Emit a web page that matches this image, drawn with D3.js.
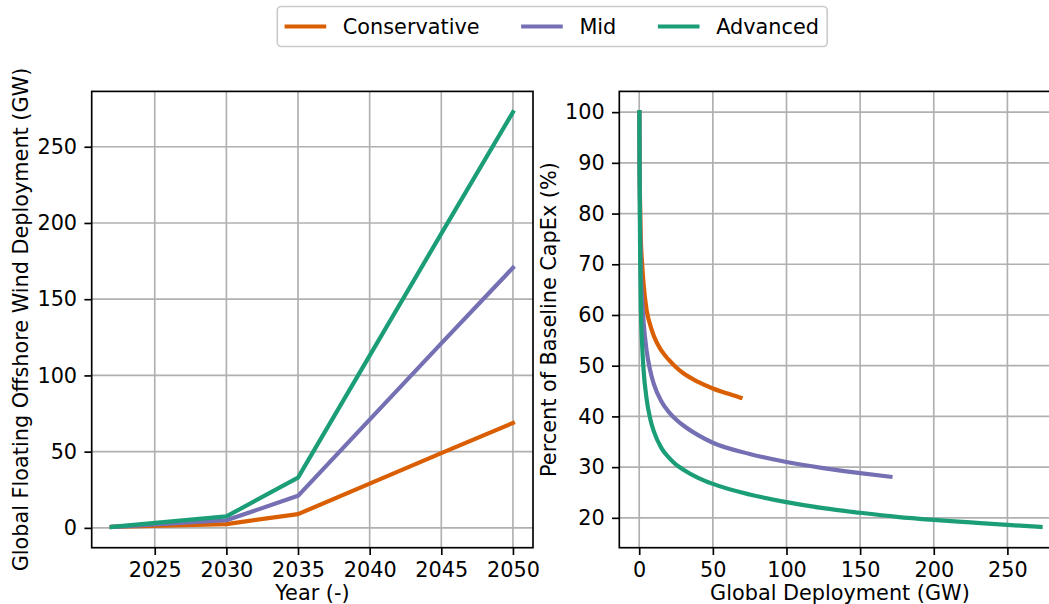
<!DOCTYPE html>
<html>
<head>
<meta charset="utf-8">
<script src="https://cdnjs.cloudflare.com/ajax/libs/d3/7.8.5/d3.min.js"></script>
<style>
  body { margin: 0; background: #fff; }
  svg text { font-family: "DejaVu Sans", sans-serif; fill: #000; }
  .tick line { stroke: #000; }
  .grid line { stroke: #b0b0b0; stroke-width: 1.67px; }
</style>
</head>
<body>
<div id="chart"></div>
<script>
// scenarios
var scenarios = ["Conservative", "Mid", "Advanced"];
var colors = ["#d95f02", "#7570b3", "#1b9e77"];

// left panel: cumulative deployment by year (GW)
var years = [2022, 2030, 2035, 2040, 2045, 2050];
var deployConservative = [0.6, 2.5, 9, 29, 49, 68.8];
var deployMid = [0.6, 5, 21, 71, 121, 170.6];
var deployAdvanced = [0.6, 7.5, 33, 113, 193, 272.7];

// right panel: capex (% of baseline) vs global deployment (GW)
var gwConservative = [0.1, 0.3, 0.6, 1, 2, 3, 5, 7.5, 10, 15, 20, 25, 30, 40, 50, 60, 68.8];
var capexConservative = [100, 89, 82, 76, 70, 66, 61, 58, 55.8, 53, 51.2, 49.7, 48.5, 46.8, 45.5, 44.5, 43.7];
var gwMid = [0.1, 0.3, 0.6, 1, 2, 3, 5, 7.5, 10, 15, 20, 25, 30, 40, 50, 75, 100, 125, 150, 170.6];
var capexMid = [100, 88, 78, 70, 63, 58.5, 53, 49, 46.3, 43, 40.9, 39.4, 38.2, 36.3, 34.8, 32.6, 31, 29.8, 28.8, 28.1];
var gwAdvanced = [0.1, 0.3, 0.6, 1, 2, 3, 5, 7.5, 10, 15, 20, 25, 30, 40, 50, 75, 100, 125, 150, 175, 200, 225, 250, 272.5];
var capexAdvanced = [100, 85, 73, 63, 54, 49, 43.5, 39.5, 37, 33.8, 31.9, 30.5, 29.5, 27.9, 26.7, 24.6, 23.1, 21.9, 21, 20.2, 19.6, 19.1, 18.6, 18.2];

// tick values
var yearTicks = [2025, 2030, 2035, 2040, 2045, 2050];
var deployTicks = [0, 50, 100, 150, 200, 250];
var gwTicks = [0, 50, 100, 150, 200, 250];
var capexTicks = [20, 30, 40, 50, 60, 70, 80, 90, 100];

var FS = 20.8, TICK = 7.3, LW = 4.2;
var W = 1049, H = 604;

var svg = d3.select("#chart").append("svg")
  .attr("width", W)
  .attr("height", H);

// matplotlib-like 5% margins
function padded(ext){
  var m = (ext[1] - ext[0]) * 0.05;
  return [ext[0] - m, ext[1] + m];
}

function panel(box, xDom, yDom, xTicks, yTicks, xLabel, yLabel, yLabelX, series, clipId, curve){
  var x = d3.scaleLinear().domain(xDom).range([box.x0, box.x1]);
  var y = d3.scaleLinear().domain(yDom).range([box.y1, box.y0]);

  svg.append("clipPath").attr("id", clipId)
    .append("rect")
    .attr("x", box.x0).attr("y", box.y0)
    .attr("width", box.x1 - box.x0).attr("height", box.y1 - box.y0);

  // grid
  var grid = svg.append("g").attr("class", "grid");
  grid.selectAll("line.gx").data(xTicks).enter().append("line")
    .attr("x1", function(d){return x(d);}).attr("x2", function(d){return x(d);})
    .attr("y1", box.y0).attr("y2", box.y1);
  grid.selectAll("line.gy").data(yTicks).enter().append("line")
    .attr("y1", function(d){return y(d);}).attr("y2", function(d){return y(d);})
    .attr("x1", box.x0).attr("x2", box.x1);

  // series
  var line = d3.line().curve(curve).x(function(d){return x(d[0]);}).y(function(d){return y(d[1]);});
  svg.append("g").attr("clip-path", "url(#" + clipId + ")")
    .selectAll("path").data(series).enter().append("path")
    .attr("d", function(d){return line(d.pts);})
    .attr("fill", "none")
    .attr("stroke", function(d){return d.color;})
    .attr("stroke-width", LW)
    .attr("stroke-linejoin", "round")
    .attr("stroke-linecap", "square");

  // axes
  var gx = svg.append("g")
    .attr("transform", "translate(0," + box.y1 + ")")
    .call(d3.axisBottom(x).tickValues(xTicks).tickSize(TICK).tickPadding(TICK).tickFormat(d3.format("d")));
  var gy = svg.append("g")
    .attr("transform", "translate(" + box.x0 + ",0)")
    .call(d3.axisLeft(y).tickValues(yTicks).tickSize(TICK).tickPadding(TICK).tickFormat(d3.format("d")));
  [gx, gy].forEach(function(g){
    g.select(".domain").remove();
    g.selectAll(".tick line").attr("stroke-width", 1.67);
    g.selectAll("text").attr("font-size", FS).style("font-family", "DejaVu Sans");
  });

  // spines
  svg.append("rect")
    .attr("x", box.x0).attr("y", box.y0)
    .attr("width", box.x1 - box.x0).attr("height", box.y1 - box.y0)
    .attr("fill", "none").attr("stroke", "#000").attr("stroke-width", 1.67);

  svg.append("text")
    .attr("x", (box.x0 + box.x1) / 2).attr("y", 600)
    .attr("text-anchor", "middle").attr("font-size", FS)
    .text(xLabel);
  svg.append("text")
    .attr("transform", "translate(" + yLabelX + "," + ((box.y0 + box.y1) / 2) + ") rotate(-90)")
    .attr("text-anchor", "middle").attr("font-size", FS)
    .text(yLabel);
}

function zip(xs, ys){ return xs.map(function(v, i){ return [v, ys[i]]; }); }

// left panel
var leftSeries = [deployConservative, deployMid, deployAdvanced].map(function(vals, i){
  return {name: scenarios[i], color: colors[i], pts: zip(years, vals)};
});
var allDeploy = d3.merge([deployConservative, deployMid, deployAdvanced]);
panel({x0: 91.7, x1: 533, y0: 91.4, y1: 547.7},
  padded(d3.extent(years)), padded(d3.extent(allDeploy)),
  yearTicks, deployTicks,
  "Year (-)", "Global Floating Offshore Wind Deployment (GW)", 27.8,
  leftSeries, "clipL", d3.curveLinear);

// right panel (the figure is cut at the right edge)
var rightSeries = [
  {name: scenarios[0], color: colors[0], pts: zip(gwConservative, capexConservative)},
  {name: scenarios[1], color: colors[1], pts: zip(gwMid, capexMid)},
  {name: scenarios[2], color: colors[2], pts: zip(gwAdvanced, capexAdvanced)}
];
var allGw = d3.merge([gwConservative, gwMid, gwAdvanced]);
var allCapex = d3.merge([capexConservative, capexMid, capexAdvanced]);
panel({x0: 619.3, x1: 1060.6, y0: 91.4, y1: 547.7},
  padded(d3.extent(allGw)), padded(d3.extent(allCapex)),
  gwTicks, capexTicks,
  "Global Deployment (GW)", "Percent of Baseline CapEx (%)", 555.5,
  rightSeries, "clipR", d3.curveMonotoneX);

// legend
var leg = svg.append("g");
var frame = leg.append("rect")
  .attr("y", 6.5).attr("height", 40).attr("rx", 4)
  .attr("fill", "#fff").attr("fill-opacity", 0.8)
  .attr("stroke", "#cccccc").attr("stroke-width", 1.67);
var lx = 284.6, ly = 26.5;
scenarios.forEach(function(name, i){
  leg.append("line")
    .attr("x1", lx).attr("x2", lx + 2 * FS)
    .attr("y1", ly).attr("y2", ly)
    .attr("stroke", colors[i]).attr("stroke-width", LW);
  var t = leg.append("text")
    .attr("x", lx + 2.8 * FS).attr("y", ly).attr("dy", "0.36em")
    .attr("font-size", FS)
    .text(name);
  lx = lx + 2.8 * FS + t.node().getComputedTextLength() + 2 * FS;
});
var legRight = lx - 2 * FS + 0.4 * FS;
frame.attr("x", 277.3).attr("width", legRight - 277.3);
frame.lower();
</script>
</body>
</html>
